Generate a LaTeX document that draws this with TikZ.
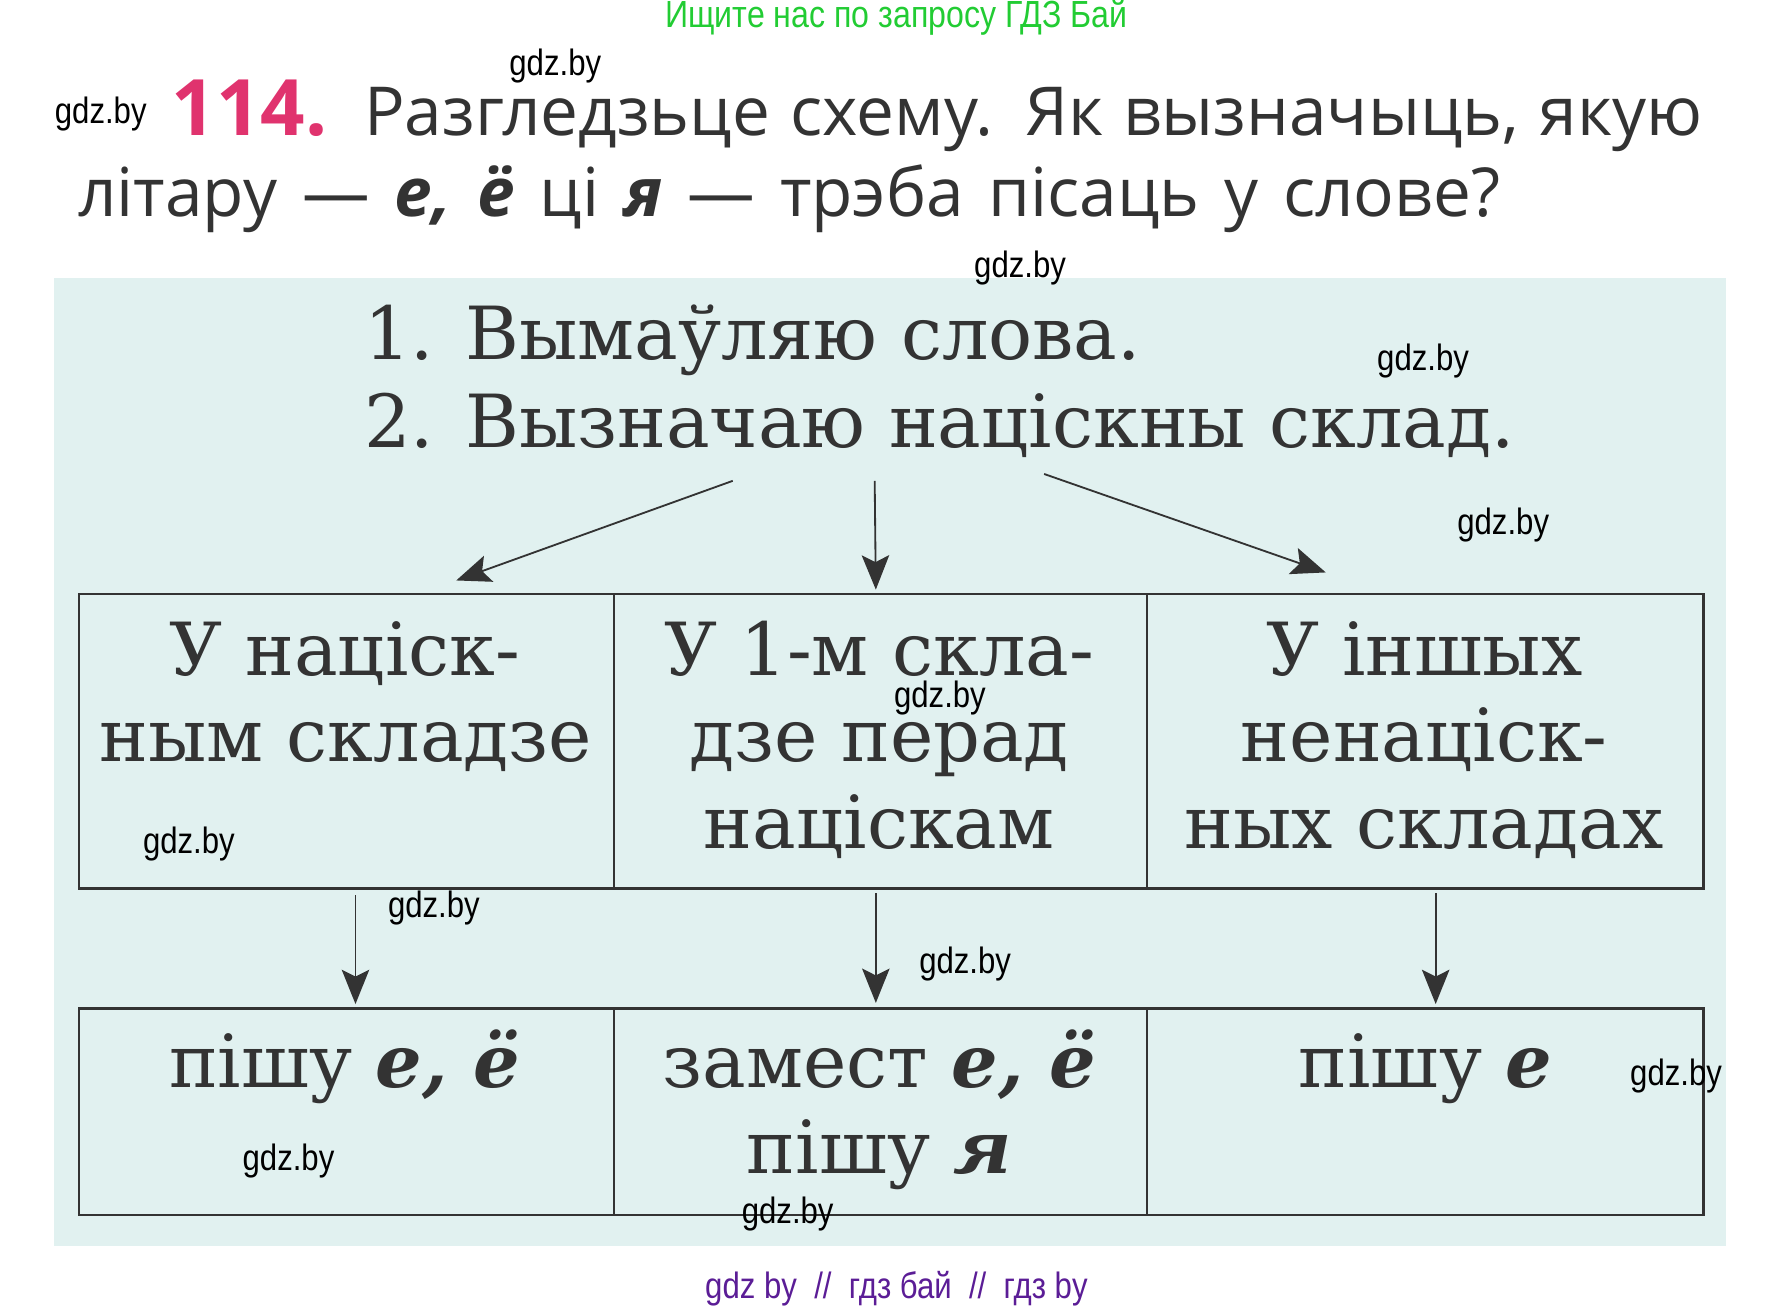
\documentclass[tikz,border=0pt]{standalone}
\usepackage{fontspec}
\usetikzlibrary{arrows.meta}
\newfontfamily\titlefont{Open Sans}
\newfontfamily\schoolfont{DejaVu Serif}
\newfontfamily\markfont[FakeStretch=0.85]{Liberation Sans}
\definecolor{bgteal}{HTML}{E1F1F0}
\definecolor{inkgray}{HTML}{333333}
\definecolor{numpink}{HTML}{E0336E}
\definecolor{adgreen}{HTML}{22CC33}
\definecolor{adpurple}{HTML}{5B1D96}
\newcommand{\bi}[1]{\textbf{\textit{#1}}}

\begin{document}
\begin{tikzpicture}[x=1pt,y=-1pt,
  box/.style={draw=inkgray,line width=2pt,inner sep=0pt,anchor=north west},
  big/.style={font=\schoolfont\fontsize{64}{77}\selectfont,text=inkgray,inner sep=0pt,anchor=base},
  head/.style={font=\titlefont\fontsize{59}{70}\selectfont,text=inkgray,inner sep=0pt,anchor=base west},
  wmark/.style={font=\markfont\fontsize{32}{32}\selectfont,inner sep=0pt},
  arr/.style={draw=inkgray,line width=1.6pt,-{Stealth[length=30pt,width=24pt,inset=6pt]}}]
  \useasboundingbox (0,0) rectangle (1560,1142.5);
  \fill[bgteal] (47,243) rectangle (1508,1088);
  % task text
  \node[wmark,text=adgreen,font=\markfont\fontsize{33}{33}\selectfont] (ad) at (783,15) {Ищите нас по запросу ГДЗ Бай};
  \node[head,text=numpink,font=\titlefont\bfseries\fontsize{68}{70}\selectfont] (num) at (150,118) {114.};
  \node[head] (task1) at (318,118) {\makebox[1169pt][s]{Разгледзьце схему. Як вызначыць, якую}};
  \node[head] (task2) at (68,189) {\makebox[1242pt][s]{літару — \bi{е, ё} ці \bi{я} — трэба пісаць у слове?}};
  % steps
  \node[big,anchor=base west] (step1) at (318,314) {1. Вымаўляю слова.};
  \node[big,anchor=base west] (step2) at (318,391) {2. Вызначаю націскны склад.};
  % upper boxes
  \node[box,minimum width=467pt,minimum height=257pt] (u1) at (68,518) {};
  \node[box,minimum width=466pt,minimum height=257pt] (u2) at (535,518) {};
  \node[box,minimum width=486pt,minimum height=257pt] (u3) at (1001,518) {};
  \node[big] (u1a) at (301,590) {У націск-};
  \node[big] (u1b) at (302,665) {ным складзе};
  \node[big] (u2a) at (768,590) {У 1-м скла-};
  \node[big] (u2b) at (768,665) {дзе перад};
  \node[big] (u2c) at (768,741) {націскам};
  \node[big] (u3a) at (1244,590) {У іншых};
  \node[big] (u3b) at (1244,665) {ненаціск-};
  \node[big] (u3c) at (1244,741) {ных складах};
  % lower boxes
  \node[box,minimum width=467pt,minimum height=180pt] (d1) at (68,880) {};
  \node[box,minimum width=466pt,minimum height=180pt] (d2) at (535,880) {};
  \node[box,minimum width=486pt,minimum height=180pt] (d3) at (1001,880) {};
  \node[big] (d1a) at (301,950) {пішу \bi{е, ё}};
  \node[big] (d2a) at (768,950) {замест \bi{е, ё}};
  \node[big] (d2b) at (768,1025) {пішу \bi{я}};
  \node[big] (d3a) at (1245,950) {пішу \bi{е}};
  % arrows
  \coordinate (s1) at (640,420);
  \coordinate (s2) at (764,420);
  \coordinate (s3) at (912,414);
  \draw[arr] (s1) -- ([shift={(96,-11)}]u1.north);
  \draw[arr] (s2) -- ([shift={(-4,-3)}]u2.north);
  \draw[arr] (s3) -- ([shift={(-87,-18)}]u3.north);
  \draw[arr] ([shift={(8,5)}]u1.south) -- ([shift={(8,-3)}]d1.north);
  \draw[arr] ([shift={(-4,3)}]u2.south) -- ([shift={(-4,-4)}]d2.north);
  \draw[arr] ([shift={(9,3)}]u3.south) -- ([shift={(9,-3)}]d3.north);
  % watermarks
  \node[wmark] (w1) at (485,58) {gdz.by};
  \node[wmark] (w2) at (88,100) {gdz.by};
  \node[wmark] (w3) at (891,234) {gdz.by};
  \node[wmark] (w4) at (1243,315) {gdz.by};
  \node[wmark] (w5) at (1313,459) {gdz.by};
  \node[wmark] (w6) at (821,610) {gdz.by};
  \node[wmark] (w7) at (165,737) {gdz.by};
  \node[wmark] (w8) at (379,793) {gdz.by};
  \node[wmark] (w9) at (843,842) {gdz.by};
  \node[wmark] (w10) at (1464,940) {gdz.by};
  \node[wmark] (w11) at (252,1014) {gdz.by};
  \node[wmark] (w12) at (688,1060) {gdz.by};
  \node[wmark,text=adpurple,font=\markfont\fontsize{32}{32}\selectfont] (foot) at (783,1126) {gdz by\ \ //\ \ гдз бай\ \ //\ \ гдз by};
\end{tikzpicture}
\end{document}
